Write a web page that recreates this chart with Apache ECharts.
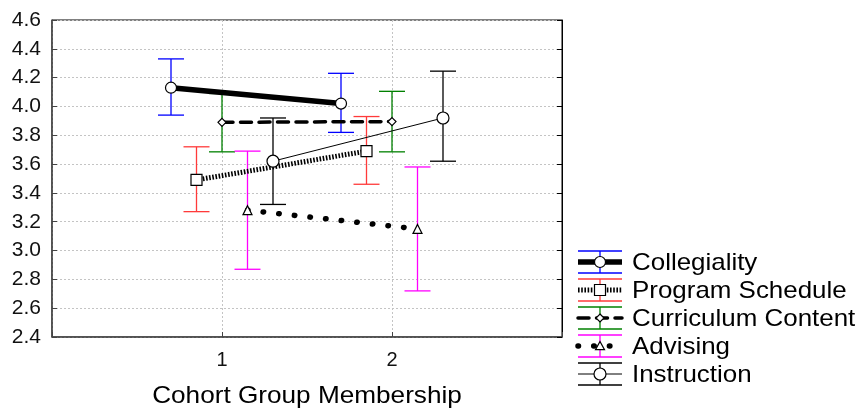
<!DOCTYPE html>
<html>
<head>
<meta charset="utf-8">
<script src="https://cdn.jsdelivr.net/npm/echarts@6/dist/echarts.min.js"></script>
<style>html,body{margin:0;padding:0;background:#fff}#c{width:863px;height:409px}</style>
</head>
<body>
<div id="c"></div>
<script>
// ---- data ----
var seriesNames = ['Collegiality', 'Program Schedule', 'Curriculum Content', 'Advising', 'Instruction'];
var groups = [1, 2];
var offsets = [-0.3, -0.15, 0, 0.15, 0.3];
var collegialityMean = [4.13, 4.02];
var collegialityLow  = [3.94, 3.82];
var collegialityHigh = [4.33, 4.23];
var scheduleMean = [3.49, 3.69];
var scheduleLow  = [3.27, 3.46];
var scheduleHigh = [3.72, 3.93];
var curriculumMean = [3.89, 3.895];
var curriculumLow  = [3.685, 3.685];
var curriculumHigh = [4.09, 4.105];
var advisingMean = [3.28, 3.15];
var advisingLow  = [2.87, 2.72];
var advisingHigh = [3.69, 3.58];
var instructionMean = [3.62, 3.92];
var instructionLow  = [3.32, 3.62];
var instructionHigh = [3.92, 4.245];
var yTicks = ['2.4','2.6','2.8','3.0','3.2','3.4','3.6','3.8','4.0','4.2','4.4','4.6'];
var xTickLabels = ['1', '2'];
var xAxisTitle = 'Cohort Group Membership';

var means = [collegialityMean, scheduleMean, curriculumMean, advisingMean, instructionMean];
var lows = [collegialityLow, scheduleLow, curriculumLow, advisingLow, instructionLow];
var highs = [collegialityHigh, scheduleHigh, curriculumHigh, advisingHigh, instructionHigh];

// ---- styles ----
var errColors = ['#0000ff', '#ff3a3a', '#008000', '#ff00ff', '#000000'];
var lineStyles = [
  {color:'#000', width:5.5, type:'solid'},
  {color:'#000', width:5, type:[1.6,1.6], cap:'butt'},
  {color:'#000', width:3.5, type:[11,7.5], cap:'round'},
  {color:'#000', width:5.5, type:[0.5,15.2], cap:'round'},
  {color:'#000', width:1, type:'solid'}
];
var diamond = 'path://M0,-1L1,0L0,1L-1,0Z';
var symbols = ['circle', 'rect', diamond, 'triangle', 'circle'];
var symbolSizes = [11, 11, 8, 9, 12];

var chart = echarts.init(document.getElementById('c'));
var FONT = '"Liberation Sans", Arial, sans-serif';

var series = [];
// error bars
for (var s = 0; s < 5; s++) {
  (function (s) {
    var d = groups.map(function (g, i) { return [g + offsets[s], lows[s][i], highs[s][i]]; });
    series.push({
      type: 'custom', name: seriesNames[s] + ' err', z: 2,
      data: d,
      encode: {x: 0, y: [1, 2]},
      renderItem: function (params, api) {
        var x = api.value(0);
        var lo = api.coord([x, api.value(1)]);
        var hi = api.coord([x, api.value(2)]);
        var hw = 13;
        var st = {stroke: errColors[s], lineWidth: 1.3};
        return {type: 'group', children: [
          {type: 'line', shape: {x1: lo[0], y1: lo[1], x2: hi[0], y2: hi[1]}, style: st},
          {type: 'line', shape: {x1: lo[0]-hw, y1: lo[1], x2: lo[0]+hw, y2: lo[1]}, style: st},
          {type: 'line', shape: {x1: hi[0]-hw, y1: hi[1], x2: hi[0]+hw, y2: hi[1]}, style: st}
        ]};
      }
    });
  })(s);
}
// mean lines
for (var s = 0; s < 5; s++) {
  series.push({
    type: 'line', name: seriesNames[s], z: 5,
    data: groups.map(function (g, i) { return [g + offsets[s], means[s][i]]; }),
    symbol: symbols[s], symbolSize: symbolSizes[s], showSymbol: true,
    lineStyle: lineStyles[s],
    itemStyle: {color: '#fff', borderColor: '#000', borderWidth: 1.2},
    emphasis: {disabled: true},
    animation: false
  });
}

// legend drawn as graphic
var graphics = [];
var legX0 = 578, legX1 = 622, legMid = 600, legTextX = 632;
var legY0 = 262, legStep = 28;
for (var s = 0; s < 5; s++) {
  var cy = legY0 + legStep * s;
  var ec = errColors[s];
  graphics.push({type:'line', shape:{x1:legX0, y1:cy-11, x2:legX1, y2:cy-11}, style:{stroke:ec, lineWidth:1.3}});
  graphics.push({type:'line', shape:{x1:legX0, y1:cy+11, x2:legX1, y2:cy+11}, style:{stroke:ec, lineWidth:1.3}});
  graphics.push({type:'line', shape:{x1:legMid, y1:cy-11, x2:legMid, y2:cy+11}, style:{stroke:ec, lineWidth:1.3}});
  var ls = lineStyles[s];
  var dash = ls.type === 'solid' ? null : ls.type;
  graphics.push({type:'line', shape:{x1:legX0, y1:cy, x2:legX1, y2:cy},
    style:{stroke:'#000', lineWidth:ls.width, lineDash:dash, lineCap: ls.cap || 'butt'}});
  var mk;
  var r = symbolSizes[s] / 2;
  if (s === 0 || s === 4) mk = {type:'circle', shape:{cx:legMid, cy:cy, r:r}};
  else if (s === 1) mk = {type:'rect', shape:{x:legMid-r, y:cy-r, width:2*r, height:2*r}};
  else if (s === 2) mk = {type:'polygon', shape:{points:[[legMid,cy-r],[legMid+r,cy],[legMid,cy+r],[legMid-r,cy]]}};
  else mk = {type:'polygon', shape:{points:[[legMid,cy-r],[legMid+r,cy+r*0.8],[legMid-r,cy+r*0.8]]}};
  mk.style = {fill:'#fff', stroke:'#000', lineWidth:1.2};
  mk.z = 10;
  graphics.push(mk);
  graphics.push({type:'text', x:legTextX, y:cy + 1, z:10, scaleX: 1.08,
    style:{text:seriesNames[s], font:'24px ' + FONT, fill:'#000', verticalAlign:'middle', align:'left'}});
}
// x axis title (slightly widened like the reference)
graphics.push({type:'text', x:307, y:396, z:10, scaleX: 1.09,
  style:{text:xAxisTitle, font:'24px ' + FONT, fill:'#000', verticalAlign:'middle', align:'center'}});

var gridLine = {show:true, lineStyle:{color:'#c4c4c4', type:[2,2], width:1}};
chart.setOption({
  animation: false,
  backgroundColor: '#fff',
  grid: {left: 52, right: 301, top: 20, bottom: 72, show: true, borderColor: '#000', borderWidth: 1},
  xAxis: [{
    type: 'value', min: 0, max: 3, interval: 1,
    axisLine: {show: true, lineStyle: {color: '#444', width: 1.5}},
    axisTick: {show: true, inside: true, length: 5, lineStyle: {color: '#444'}},
    axisLabel: {fontSize: 20, fontFamily: FONT, color: '#111', margin: 13,
      formatter: function (v) { var i = groups.indexOf(v); return i >= 0 ? xTickLabels[i] : ''; }},
    splitLine: gridLine
  }],
  yAxis: [{
    type: 'value', min: 2.4, max: 4.6, interval: 0.2,
    axisLine: {show: true, lineStyle: {color: '#444', width: 1.5}},
    axisTick: {show: true, inside: true, length: 5, lineStyle: {color: '#444'}},
    axisLabel: {fontSize: 21, fontFamily: FONT, color: '#111', margin: 11,
      formatter: function (v) { var i = Math.round((v - 2.4) / 0.2); return yTicks[i] || ''; }},
    splitLine: gridLine
  }, {
    type: 'value', min: 2.4, max: 4.6, interval: 0.2, position: 'right',
    axisLine: {show: true, lineStyle: {color: '#000', width: 1}},
    axisTick: {show: true, inside: true, length: 5, lineStyle: {color: '#000'}},
    axisLabel: {show: false}, splitLine: {show: false}
  }],
  series: series,
  graphic: graphics
});
</script>
</body>
</html>
